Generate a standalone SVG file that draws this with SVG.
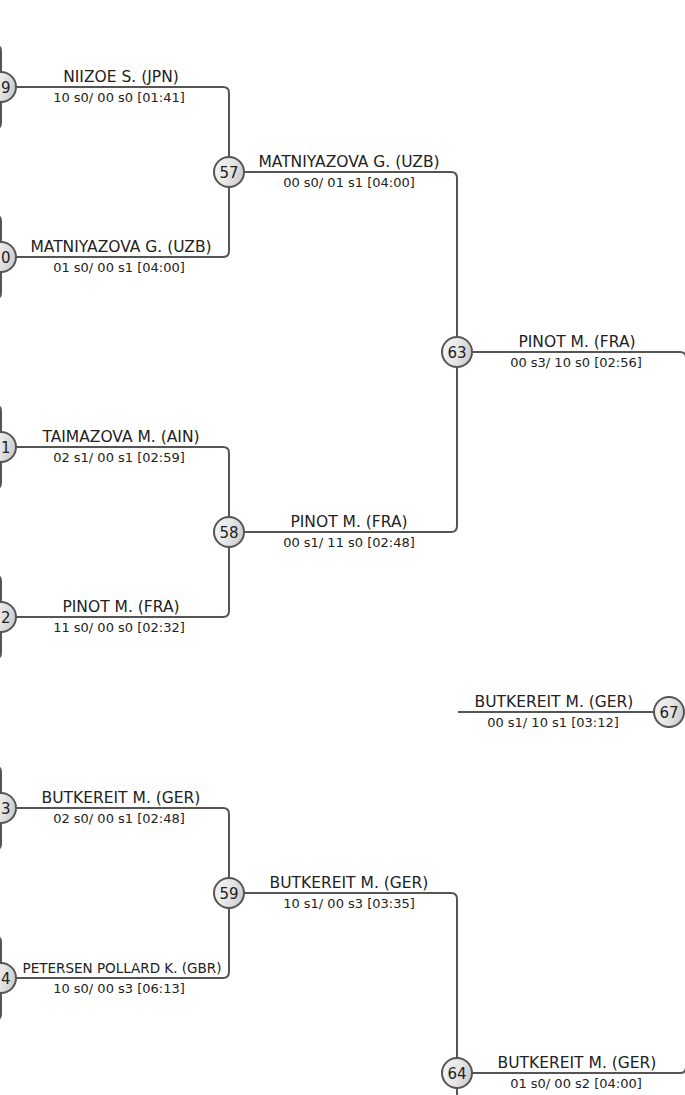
<svg xmlns="http://www.w3.org/2000/svg" width="685" height="1095" viewBox="0 0 685 1095">
<defs>
<linearGradient id="cg" x1="0" y1="0" x2="1" y2="0.3">
<stop offset="0" stop-color="#f6f6f6"/>
<stop offset="0.6" stop-color="#e6e6e6"/>
<stop offset="1" stop-color="#cfcfcf"/>
</linearGradient>
</defs>
<style>
.ln{fill:none;stroke:#555;stroke-width:2;}
.nd circle{fill:url(#cg);stroke:#555;stroke-width:2;}
.nd text{font-family:"DejaVu Sans",sans-serif;font-size:15px;fill:#222;text-anchor:middle;}
.nd text.cut{text-anchor:start;}
.nm{font-family:"DejaVu Sans",sans-serif;font-size:15.5px;fill:#222;text-anchor:middle;}
.sc{font-family:"DejaVu Sans",sans-serif;font-size:13px;fill:#222;text-anchor:middle;}
</style>
<rect width="685" height="1095" fill="#fff"/>
<g id="connectors">
<path class="ln" d="M -6,45 Q 1,45 1,51 V 123 Q 1,129 -6,129"/>
<path class="ln" d="M -6,215 Q 1,215 1,221 V 293 Q 1,299 -6,299"/>
<path class="ln" d="M -6,405 Q 1,405 1,411 V 483 Q 1,489 -6,489"/>
<path class="ln" d="M -6,575 Q 1,575 1,581 V 653 Q 1,659 -6,659"/>
<path class="ln" d="M -6,766 Q 1,766 1,772 V 844 Q 1,850 -6,850"/>
<path class="ln" d="M -6,936 Q 1,936 1,942 V 1014 Q 1,1020 -6,1020"/>
<path class="ln" d="M 1,87 H 223 Q 229,87 229,93 V 251 Q 229,257 223,257 H 1"/>
<path class="ln" d="M 1,447 H 223 Q 229,447 229,453 V 611 Q 229,617 223,617 H 1"/>
<path class="ln" d="M 1,808 H 223 Q 229,808 229,814 V 972 Q 229,978 223,978 H 1"/>
<path class="ln" d="M 229,172 H 451 Q 457,172 457,178 V 526 Q 457,532 451,532 H 229"/>
<path class="ln" d="M 229,893 H 451 Q 457,893 457,899 V 1100"/>
<path class="ln" d="M 457,352 H 680 Q 686,352 686,358 V 700"/>
<path class="ln" d="M 457,1073 H 680 Q 686,1073 686,1067 V 720"/>
<path class="ln" d="M 458,712 H 660"/>
</g>
<g id="labels">
<text class="nm" x="121" y="82">NIIZOE S. (JPN)</text>
<text class="sc" x="119" y="102">10 s0/ 00 s0 [01:41]</text>
<text class="nm" x="121" y="251.5">MATNIYAZOVA G. (UZB)</text>
<text class="sc" x="119" y="271.5">01 s0/ 00 s1 [04:00]</text>
<text class="nm" x="121" y="441.5">TAIMAZOVA M. (AIN)</text>
<text class="sc" x="119" y="461.5">02 s1/ 00 s1 [02:59]</text>
<text class="nm" x="121" y="611.5">PINOT M. (FRA)</text>
<text class="sc" x="119" y="631.5">11 s0/ 00 s0 [02:32]</text>
<text class="nm" x="121" y="802.5">BUTKEREIT M. (GER)</text>
<text class="sc" x="119" y="822.5">02 s0/ 00 s1 [02:48]</text>
<text class="nm" x="122" y="972.5" style="font-size:13.5px">PETERSEN POLLARD K. (GBR)</text>
<text class="sc" x="119" y="992.5">10 s0/ 00 s3 [06:13]</text>
<text class="nm" x="349" y="166.5">MATNIYAZOVA G. (UZB)</text>
<text class="sc" x="349" y="186.5">00 s0/ 01 s1 [04:00]</text>
<text class="nm" x="349" y="526.5">PINOT M. (FRA)</text>
<text class="sc" x="349" y="546.5">00 s1/ 11 s0 [02:48]</text>
<text class="nm" x="349" y="887.5">BUTKEREIT M. (GER)</text>
<text class="sc" x="349" y="907.5">10 s1/ 00 s3 [03:35]</text>
<text class="nm" x="577" y="346.5">PINOT M. (FRA)</text>
<text class="sc" x="576" y="366.5">00 s3/ 10 s0 [02:56]</text>
<text class="nm" x="577" y="1067.5">BUTKEREIT M. (GER)</text>
<text class="sc" x="576" y="1087.5">01 s0/ 00 s2 [04:00]</text>
<text class="nm" x="554" y="706.5">BUTKEREIT M. (GER)</text>
<text class="sc" x="553" y="726.5">00 s1/ 10 s1 [03:12]</text>
</g>
<g id="n49" class="nd"><circle cx="1" cy="87" r="15"/><text class="cut" x="1" y="92.5">9</text></g>
<g id="n50" class="nd"><circle cx="1" cy="257" r="15"/><text class="cut" x="1" y="262.5">0</text></g>
<g id="n51" class="nd"><circle cx="1" cy="447" r="15"/><text class="cut" x="1" y="452.5">1</text></g>
<g id="n52" class="nd"><circle cx="1" cy="617" r="15"/><text class="cut" x="1" y="622.5">2</text></g>
<g id="n53" class="nd"><circle cx="1" cy="808" r="15"/><text class="cut" x="1" y="813.5">3</text></g>
<g id="n54" class="nd"><circle cx="1" cy="978" r="15"/><text class="cut" x="1" y="983.5">4</text></g>
<g id="n57" class="nd"><circle cx="229" cy="172" r="15"/><text x="229" y="177.5">57</text></g>
<g id="n58" class="nd"><circle cx="229" cy="532" r="15"/><text x="229" y="537.5">58</text></g>
<g id="n59" class="nd"><circle cx="229" cy="893" r="15"/><text x="229" y="898.5">59</text></g>
<g id="n63" class="nd"><circle cx="457" cy="352" r="15"/><text x="457" y="357.5">63</text></g>
<g id="n64" class="nd"><circle cx="457" cy="1073" r="15"/><text x="457" y="1078.5">64</text></g>
<g id="n67" class="nd"><circle cx="669" cy="712" r="15"/><text x="669" y="717.5">67</text></g>
</svg>
